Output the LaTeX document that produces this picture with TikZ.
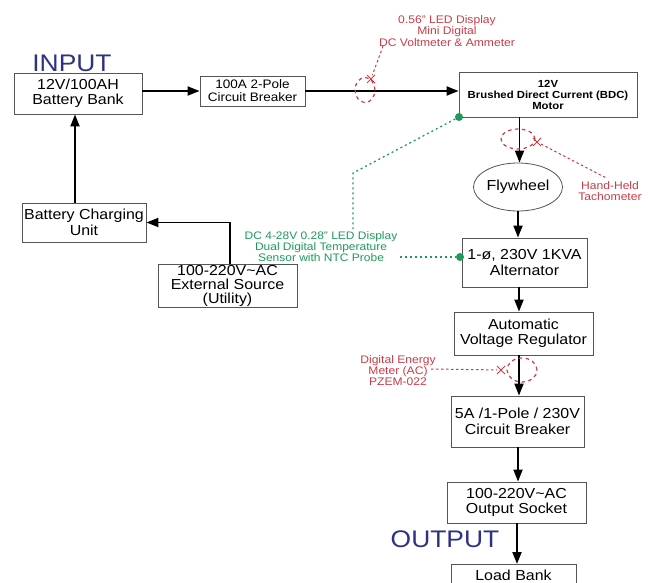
\documentclass[tikz,border=0pt]{standalone}
\usepackage{fontspec}
\setmainfont[FakeStretch=1.1]{Liberation Sans}
\usetikzlibrary{shapes.geometric,shapes.misc,arrows.meta}
\definecolor{boxgray}{HTML}{555555}
\definecolor{mred}{HTML}{C83C46}
\definecolor{mgreen}{HTML}{1E9A5A}
\definecolor{mblue}{HTML}{2D3282}
\tikzset{
  box/.style={draw=boxgray, line width=0.8pt, fill=white, align=center, inner sep=0pt,
    font=\fontsize{14.5}{15.5}\selectfont},
  arr/.style={line width=1.8pt, -{Triangle[length=12pt,width=9pt]}},
  meter/.style={ellipse, draw=mred, line width=1.2pt, dash pattern=on 3.5pt off 3.5pt, inner sep=0pt},
  xmark/.style={cross out, draw=mred, line width=1pt, minimum size=7pt, inner sep=0pt},
  redlbl/.style={text=mred, align=center, font=\fontsize{11}{11.2}\selectfont},
  grnlbl/.style={text=mgreen, align=center, font=\fontsize{10.9}{10.9}\selectfont},
  redline/.style={draw=mred, line width=1pt, dash pattern=on 2.5pt off 2.5pt},
  grnline/.style={draw=mgreen, line width=1.3pt, dash pattern=on 2pt off 3pt},
  gdot/.style={circle, fill=mgreen, minimum size=8pt, inner sep=0pt},
  title/.style={text=mblue, font=\fontsize{24}{26}\selectfont}
}
\begin{document}
\begin{tikzpicture}[x=1pt,y=-1pt]
\useasboundingbox (0,0) rectangle (649,583);

% titles
\node[title] (input) at (72,63) {INPUT};
\node[title] (output) at (445,539) {OUTPUT};

% boxes
\node[box, minimum width=128pt, minimum height=41pt] (bat) at (78,93.5) {12V/100AH\\Battery Bank};
\node[box, minimum width=105pt, minimum height=30pt, font=\fontsize{12.3}{13}\selectfont] (cb1) at (252.5,91) {100A 2-Pole\\Circuit Breaker};
\node[box, minimum width=178pt, minimum height=45pt, font=\bfseries\fontsize{10.3}{11}\selectfont] (motor) at (548,94.5) {12V\\Brushed Direct Current (BDC)\\Motor};
\node[box, ellipse, minimum width=76pt, minimum height=48pt] (fly) at (518,187) {Flywheel};
\node[box, minimum width=125pt, minimum height=49pt] (alt) at (524.5,262.5) {1-ø, 230V 1KVA\\Alternator};
\node[box, minimum width=139pt, minimum height=43pt] (avr) at (523.5,333.5) {Automatic\\Voltage Regulator};
\node[box, minimum width=133pt, minimum height=51pt] (cb5) at (517.5,421.5) {5A /1-Pole / 230V\\Circuit Breaker};
\node[box, minimum width=139pt, minimum height=41pt] (sock) at (516.5,502.5) {100-220V\textasciitilde AC\\Output Socket};
\node[box, minimum width=125pt, minimum height=32pt, anchor=north] (load) at (513.5,564) {};
\node[inner sep=0pt, font=\fontsize{14.5}{15.5}\selectfont] (loadtxt) at (513.5,575) {Load Bank};
\node[box, minimum width=124pt, minimum height=39pt] (bcu) at (84,222.5) {Battery Charging\\Unit};
\node[box, minimum width=139pt, minimum height=43pt, font=\fontsize{14.5}{14}\selectfont] (ext) at (227.5,285.5) {100-220V\textasciitilde AC\\External Source\\(Utility)};

% main arrows
\draw[arr] (bat.east |- cb1.west) -- (cb1.west);
\draw[arr] (cb1.east) -- (cb1.east -| motor.west);
\draw[arr] ([xshift=1.5pt]fly.north |- motor.south) -- ([xshift=1.5pt]fly.north);
\draw[arr] (fly.south) -- (fly.south |- alt.north);
\draw[arr] ([xshift=1pt]fly.south |- alt.south) -- ([xshift=1pt]fly.south |- avr.north);
\draw[arr] ([xshift=1pt]fly.south |- avr.south) -- ([xshift=1pt]fly.south |- cb5.north);
\draw[arr] (fly.south |- cb5.south) -- (fly.south |- sock.north);
\draw[arr] ([xshift=-1pt]fly.south |- sock.south) -- ([xshift=-1pt]fly.south |- load.north);
\draw[arr] ([xshift=2.5pt]ext.north) |- (bcu.east);
\draw[arr] ([xshift=-9pt]bcu.north) -- ([xshift=-9pt]bcu.north |- bat.south);

% voltmeter
\node[meter, minimum width=20pt, minimum height=25pt] (m1) at (365,90) {};
\node[xmark] (x1) at (371,79) {};
\node[redlbl] (v1) at (447,31) {0.56" LED Display\\Mini Digital\\DC Voltmeter \& Ammeter};
\coordinate (v1a) at (383,46);
\draw[redline] (v1a) -- (x1);

% tachometer
\node[meter, minimum width=34pt, minimum height=20pt] (m2) at (518,139) {};
\node[xmark] (x2) at (537,142) {};
\node[redlbl] (tach) at (610,191) {Hand-Held\\Tachometer};
\draw[redline] (x2) -- ([xshift=-4pt]tach.north);

% energy meter
\node[meter, minimum width=30pt, minimum height=24pt] (m3) at (522,370) {};
\node[xmark] (x3) at (501,370) {};
\node[redlbl] (em) at (398,370.5) {Digital Energy\\Meter (AC)\\PZEM-022};
\coordinate (ema) at (431,369);
\draw[redline] (ema) -- (x3);

% temperature sensor
\node[gdot] (d1) at (459,117) {};
\node[gdot] (d2) at (460,257) {};
\node[grnlbl] (temp) at (321,247) {DC 4-28V 0.28" LED Display\\Dual Digital Temperature\\Sensor with NTC Probe};
\coordinate (g1) at (400,257);
\coordinate (g2) at (353,173);
\coordinate (g3) at (353,229);
\draw[grnline] (g1) -- (d2);
\draw[grnline] (d1) -- (g2) -- (g3);
\end{tikzpicture}
\end{document}
